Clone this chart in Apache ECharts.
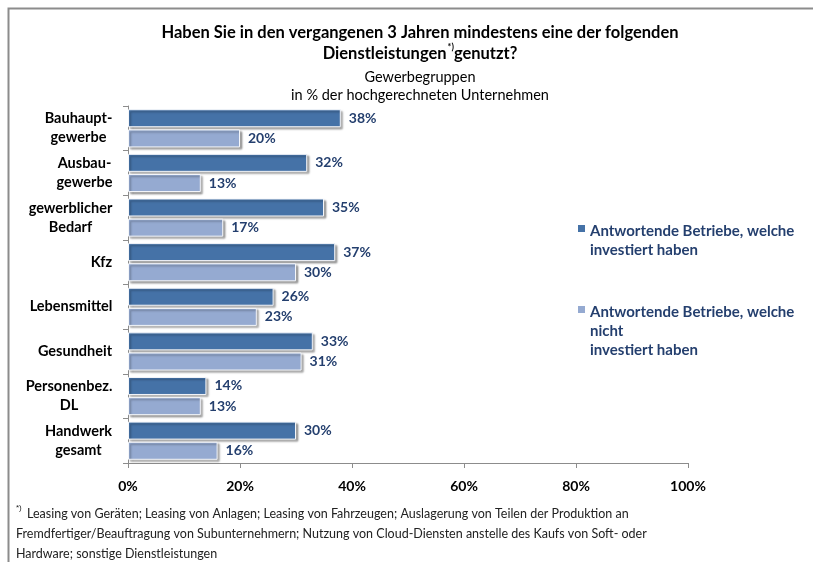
<!DOCTYPE html>
<html>
<head>
<meta charset="utf-8">
<script src="https://cdn.jsdelivr.net/npm/echarts@6/dist/echarts.min.js"></script>
<style>
  html, body { margin: 0; padding: 0; background: #fff; }
  #chart { width: 813px; height: 562px; }
</style>
</head>
<body>
<div id="chart"></div>
<script>
// Gewerbegruppen (Kategorien)
const categories = ['Bauhaupt-\ngewerbe', 'Ausbau-\ngewerbe', 'gewerblicher\nBedarf', 'Kfz', 'Lebensmittel', 'Gesundheit', 'Personenbez.\nDL', 'Handwerk\ngesamt'];
// Anteile in %
const investiert = [38, 32, 35, 37, 26, 33, 14, 30];
const nichtInvestiert = [20, 13, 17, 30, 23, 31, 13, 16];
const xTicks = [0, 20, 40, 60, 80, 100];

const nameA = 'Antwortende Betriebe, welche\ninvestiert haben';
const nameB = 'Antwortende Betriebe, welche\nnicht\ninvestiert haben';

const FONT = 'Lato';
const navy = '#243f6e';
const LABEL_SIZE = 14.5;

// mehrzeilige Achsenbeschriftungen zentriert, Block rechtsbündig
const ctx = document.createElement('canvas').getContext('2d');
ctx.font = 'bold ' + LABEL_SIZE + 'px ' + FONT;
const labelRich = {};
categories.forEach((c, i) => {
  const w = Math.max(...c.split('\n').map(s => ctx.measureText(s).width));
  labelRich['c' + i] = {
    width: Math.ceil(w) + 1,
    align: 'center',
    fontFamily: FONT,
    fontWeight: 'bold',
    fontSize: LABEL_SIZE,
    lineHeight: 19,
    color: '#000'
  };
});

const chart = echarts.init(document.getElementById('chart'));

function barSeries(name, data, color) {
  return {
    name: name,
    type: 'bar',
    data: data,
    barWidth: 18,
    barGap: '12%',
    itemStyle: {
      color: color,
      borderColor: '#f4f6fa',
      borderWidth: 1,
      shadowColor: 'rgba(0,0,0,0.35)',
      shadowBlur: 2,
      shadowOffsetX: 2,
      shadowOffsetY: 2
    },
    label: {
      show: true,
      position: 'right',
      distance: 8,
      formatter: '{c}%',
      color: navy,
      fontFamily: FONT,
      fontWeight: 'bold',
      fontSize: 14
    }
  };
}

// Legendensymbol: Quadrat auf Höhe der ersten Zeile
function legendIcon(lines) {
  return 'path://M0,6h7v7h-7z M0,' + (lines * 19) + 'L0.01,' + (lines * 19) + 'L0,' + (lines * 19) + 'z';
}

function legendBox(name, lines, top) {
  return {
    orient: 'vertical',
    left: 578,
    top: top,
    padding: 0,
    itemWidth: 7,
    itemHeight: lines * 19,
    selectedMode: false,
    itemStyle: { borderWidth: 0 },
    data: [{ name: name, icon: legendIcon(lines) }],
    textStyle: { color: navy, fontWeight: 'bold', fontSize: 15, lineHeight: 19, fontFamily: FONT }
  };
}

const option = {
  animation: false,
  textStyle: { fontFamily: FONT },
  title: [
    {
      text: 'Haben Sie in den vergangenen 3 Jahren mindestens eine der folgenden\nDienstleistungen{sup|*)}genutzt?',
      left: 415,
      top: 17,
      textAlign: 'center',
      textStyle: {
        fontFamily: FONT,
        fontSize: 16.5,
        fontWeight: 'bold',
        color: '#000',
        lineHeight: 21,
        rich: {
          sup: { fontSize: 9, fontWeight: 'bold', color: '#000', verticalAlign: 'top', padding: [0, 0, 8, 1] }
        }
      }
    },
    {
      text: 'Gewerbegruppen\nin % der hochgerechneten Unternehmen',
      left: 415,
      top: 63,
      textAlign: 'center',
      textStyle: {
        fontFamily: FONT,
        fontSize: 14.5,
        fontWeight: 'normal',
        color: '#000',
        lineHeight: 18
      }
    }
  ],
  legend: [
    legendBox(nameA, 2, 222),
    legendBox(nameB, 3, 303)
  ],
  grid: {
    left: 128,
    right: 125,
    top: 106,
    bottom: 99,
    containLabel: false
  },
  xAxis: {
    type: 'value',
    min: 0,
    max: 100,
    interval: 20,
    axisLine: { show: true, lineStyle: { color: '#8c8c8c', width: 1 } },
    axisTick: { show: true, length: 5, lineStyle: { color: '#8c8c8c' } },
    splitLine: { show: false },
    axisLabel: {
      margin: 16,
      color: '#000',
      fontFamily: FONT,
      fontWeight: 'bold',
      fontSize: 14,
      formatter: v => xTicks.indexOf(v) >= 0 ? v + '%' : ''
    }
  },
  yAxis: {
    type: 'category',
    inverse: true,
    data: categories,
    axisLine: { show: true, lineStyle: { color: '#8c8c8c', width: 1 } },
    axisTick: { show: true, length: 5, lineStyle: { color: '#8c8c8c' } },
    axisLabel: {
      margin: 15,
      align: 'right',
      formatter: (v, i) => v.split('\n').map(s => '{c' + i + '|' + s + '}').join('\n'),
      rich: labelRich
    }
  },
  series: [
    barSeries(nameA, investiert, '#4572a7'),
    barSeries(nameB, nichtInvestiert, '#95aad1')
  ],
  graphic: [
    {
      // Rahmen
      type: 'rect',
      left: 6,
      top: 6,
      shape: { width: 830, height: 600 },
      style: { fill: 'none', stroke: '#8c8c8c', lineWidth: 2 },
      silent: true
    },
    {
      type: 'text',
      left: 16,
      top: 504,
      style: {
        text: '{sup|*)} Leasing von Geräten; Leasing von Anlagen; Leasing von Fahrzeugen; Auslagerung von Teilen der Produktion an\nFremdfertiger/Beauftragung von Subunternehmern; Nutzung von Cloud-Diensten anstelle des Kaufs von Soft- oder\nHardware; sonstige Dienstleistungen',
        font: '12.5px ' + FONT,
        fill: '#222',
        lineHeight: 20,
        rich: {
          sup: { fontSize: 8, fill: '#222', verticalAlign: 'top', padding: [0, 2, 6, 0] }
        }
      }
    }
  ]
};

chart.setOption(option);
</script>
</body>
</html>
